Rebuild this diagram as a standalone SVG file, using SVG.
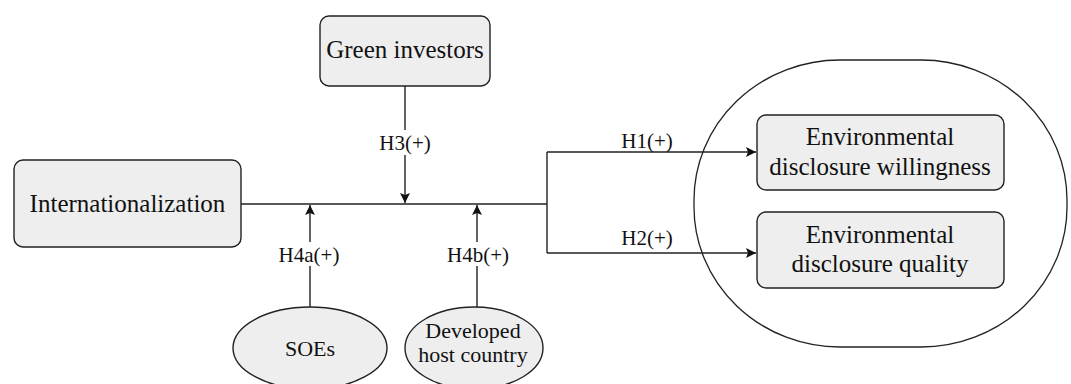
<svg xmlns="http://www.w3.org/2000/svg" width="1071" height="384" viewBox="0 0 1071 384">
<style>
.node{fill:#eeeeee;stroke:#222;stroke-width:1.4}
.grp{fill:#fff;stroke:#222;stroke-width:1.3}
.t{font-family:"Liberation Serif",serif;font-size:25px;fill:#111;text-anchor:middle}
.s{font-family:"Liberation Serif",serif;font-size:22px;fill:#111;text-anchor:middle}
.l{font-family:"Liberation Serif",serif;font-size:21px;fill:#111;text-anchor:middle}
.c{fill:none;stroke:#222;stroke-width:1.4}
</style>
<defs>
<marker id="ah" viewBox="0 0 10 10" refX="10" refY="5" markerWidth="10" markerHeight="10" markerUnits="userSpaceOnUse" orient="auto">
<path d="M0,0 L10,5 L0,10 L2,5 Z" fill="#111"/>
</marker>
</defs>
<rect width="1071" height="384" fill="#fff"/>
<g id="outcome-group">
<rect class="grp" x="694" y="60" width="373" height="287" rx="146" ry="140"/>
</g>
<g id="internationalization">
<rect class="node" x="14" y="160" width="227" height="87" rx="9"/>
<text class="t" x="127.5" y="212">Internationalization</text>
</g>
<g id="green-investors">
<rect class="node" x="320" y="16" width="170" height="70" rx="9"/>
<text class="t" x="405" y="58">Green investors</text>
</g>
<g id="willingness">
<rect class="node" x="757" y="115" width="247" height="75" rx="9"/>
<text class="t" x="880" y="145">Environmental</text>
<text class="t" x="880" y="175">disclosure willingness</text>
</g>
<g id="quality">
<rect class="node" x="757" y="212" width="247" height="76" rx="9"/>
<text class="t" x="880" y="243">Environmental</text>
<text class="t" x="880" y="272">disclosure quality</text>
</g>
<g id="soes">
<ellipse class="node" cx="310" cy="348" rx="77" ry="41"/>
<text class="s" x="310" y="356">SOEs</text>
</g>
<g id="developed-host-country">
<ellipse class="node" cx="474" cy="348" rx="69" ry="41"/>
<text class="s" x="473" y="338">Developed</text>
<text class="s" x="473" y="362">host country</text>
</g>
<g id="connectors">
<path class="c" d="M241,204 H547"/>
<path class="c" d="M547,152 V253"/>
<path class="c" d="M547,152 H756" marker-end="url(#ah)"/>
<path class="c" d="M547,253 H756" marker-end="url(#ah)"/>
<path class="c" d="M405,86 V130"/>
<path class="c" d="M405,155 V203" marker-end="url(#ah)"/>
<path class="c" d="M310,307 V266"/>
<path class="c" d="M310,242 V205" marker-end="url(#ah)"/>
<path class="c" d="M477,307 V266"/>
<path class="c" d="M477,242 V205" marker-end="url(#ah)"/>
<text class="l" x="647" y="148">H1(+)</text>
<text class="l" x="647" y="245">H2(+)</text>
<text class="l" x="405" y="150">H3(+)</text>
<text class="l" x="309" y="262">H4a(+)</text>
<text class="l" x="478" y="262">H4b(+)</text>
</g>
</svg>
